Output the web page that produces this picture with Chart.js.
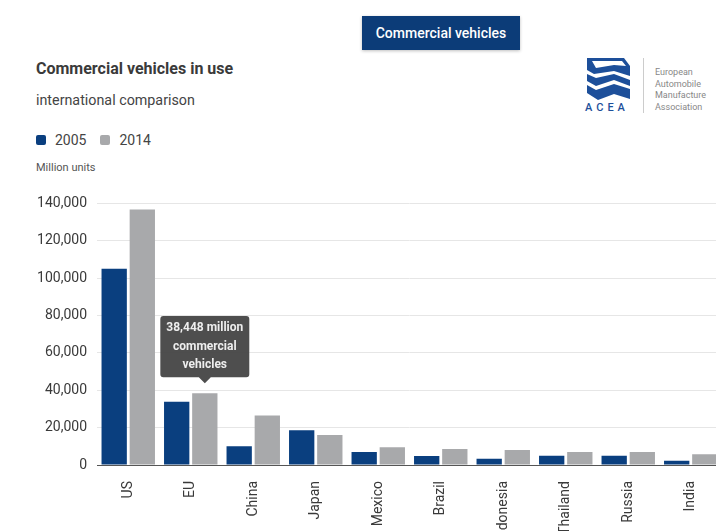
<!DOCTYPE html>
<html>
<head>
<meta charset="utf-8">
<script src="https://cdn.jsdelivr.net/npm/chart.js@4/dist/chart.umd.min.js"></script>
<style>
  html, body { margin: 0; padding: 0; background: #fff; }
  body { width: 716px; height: 531px; overflow: hidden; position: relative; font-family: Roboto, "Open Sans", sans-serif; color: #333; }
  .tab { position: absolute; left: 362px; top: 16px; width: 158px; height: 34px; background: #0c3c78; color: #fff;
         font-size: 14px; font-weight: 500; line-height: 34px; text-align: center; box-shadow: 0 1px 3px rgba(0,0,0,.25); }
  .title { position: absolute; left: 36px; top: 59px; font-size: 16px; font-weight: bold; color: #3a3a3a; }
  .subtitle { position: absolute; left: 36px; top: 92px; font-size: 14.3px; color: #444; }
  .legend { position: absolute; left: 36px; top: 132px; font-size: 14px; color: #444; display: flex; align-items: center; }
  .legend span.sw { display: inline-block; width: 10px; height: 10px; border-radius: 2px; margin-right: 9px; }
  .legend span.lb { margin-right: 14px; }
  .units { position: absolute; left: 36px; top: 161px; font-size: 11px; color: #555; }
  .logo { position: absolute; left: 584px; top: 56px; }
  .logo .name { position: absolute; left: 1px; top: 45px; width: 50px; font-size: 11px; font-weight: 500; letter-spacing: 4px; color: #1d4f9a; }
  .logo .sep { position: absolute; left: 59px; top: 2px; width: 1px; height: 55px; background: #ccc; }
  .logo .assoc { position: absolute; left: 71px; top: 11px; font-size: 9px; line-height: 11.5px; color: #888; white-space: nowrap; }
  #chartWrap { position: absolute; left: 0; top: 185px; width: 730px; height: 346px; }
</style>
</head>
<body>
<div class="tab">Commercial vehicles</div>
<div class="title">Commercial vehicles in use</div>
<div class="subtitle">international comparison</div>
<div class="legend" id="legend"></div>
<div class="units">Million units</div>
<div class="logo">
  <svg width="48" height="46" viewBox="0 0 48 46">
    <polygon points="3,2 40,2 46,10 46,20 30,15 10,18 3,14" fill="#1d4f9a"/>
    <polygon points="8,5 38,5 42,10 30,9 12,12" fill="#fff"/>
    <polygon points="3,18 12,22 30,18 46,24 46,30 30,24 12,30 3,25" fill="#1d4f9a"/>
    <polygon points="3,29 12,34 30,28 46,33 46,43 30,38 14,44 3,37" fill="#1d4f9a"/>
  </svg>
  <div class="name">ACEA</div>
  <div class="sep"></div>
  <div class="assoc">European<br>Automobile<br>Manufacture<br>Association</div>
</div>
<div id="chartWrap"><canvas id="chart"></canvas></div>
<script>
const categories = ['US', 'EU', 'China', 'Japan', 'Mexico', 'Brazil', 'Indonesia', 'Thailand', 'Russia', 'India'];
const years = ['2005', '2014'];
const values2005 = [105000, 33900, 10000, 18600, 6900, 4800, 3300, 4900, 4900, 2300];
const values2014 = [136800, 38448, 26500, 16000, 9500, 8500, 8000, 6900, 6900, 5700];
const colors = ['#0a3f7f', '#a8a9ab'];

// legend
const legend = document.getElementById('legend');
years.forEach((y, i) => {
  legend.insertAdjacentHTML('beforeend', `<span class="sw" style="background:${colors[i]}"></span><span class="lb">${y}</span>`);
});

Chart.defaults.font.family = 'Roboto, "Open Sans", sans-serif';

const chart = new Chart(document.getElementById('chart'), {
  type: 'bar',
  data: {
    labels: categories,
    datasets: [
      { label: years[0], data: values2005, backgroundColor: colors[0], hoverBackgroundColor: colors[0], categoryPercentage: 0.9, barPercentage: 0.9 },
      { label: years[1], data: values2014, backgroundColor: colors[1], hoverBackgroundColor: colors[1], categoryPercentage: 0.9, barPercentage: 0.9 }
    ]
  },
  options: {
    responsive: true,
    maintainAspectRatio: false,
    animation: false,
    events: [],
    layout: { padding: { top: 16, right: 8, bottom: 0, left: 0 } },
    plugins: {
      legend: { display: false },
      tooltip: {
        enabled: true,
        yAlign: 'bottom',
        xAlign: 'center',
        displayColors: false,
        backgroundColor: 'rgba(68,68,68,0.95)',
        bodyColor: '#eee',
        bodyFont: { size: 12, weight: 'bold' },
        bodyAlign: 'center',
        bodySpacing: 4,
        padding: { top: 5, bottom: 5, left: 6, right: 6 },
        caretSize: 6,
        caretPadding: 10,
        cornerRadius: 3,
        callbacks: {
          title: () => '',
          label: ctx => [ctx.parsed.y.toLocaleString('en-US') + ' million', 'commercial', 'vehicles']
        }
      }
    },
    scales: {
      x: {
        grid: { display: false },
        border: { display: true, color: '#555', width: 1 },
        ticks: { color: '#3a3a3a', font: { size: 14 }, minRotation: 90, maxRotation: 90, autoSkip: false, padding: 8 },
        afterFit: s => { s.height = 66; }
      },
      y: {
        min: 0,
        max: 140000,
        border: { display: false },
        grid: { color: '#e6e6e6', drawTicks: false },
        ticks: { stepSize: 20000, color: '#3a3a3a', font: { size: 14 }, padding: 10, callback: v => v.toLocaleString('en-US') },
        afterFit: s => { s.width = 97; }
      }
    }
  }
});

chart.tooltip.setActiveElements([{ datasetIndex: 1, index: 1 }], { x: 0, y: 0 });
chart.update();
</script>
</body>
</html>
